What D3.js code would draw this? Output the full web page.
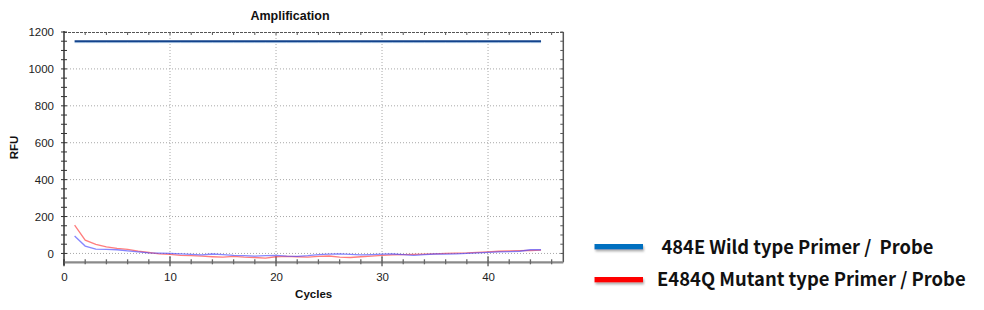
<!DOCTYPE html>
<html><head><meta charset="utf-8">
<script src="https://cdn.jsdelivr.net/npm/d3@7"></script>
<style>
html,body{margin:0;padding:0;background:#fff;}
svg{display:block;}
</style></head>
<body>
<svg id="chart" width="984" height="310"></svg>
<script>
// ---- data ----
const cycles = d3.range(1, 46);
const wildFlat = [1150,1150,1150,1150,1150,1150,1150,1150,1150,1150,1150,1150,1150,1150,1150,1150,1150,1150,1150,1150,1150,1150,1150,1150,1150,1150,1150,1150,1150,1150,1150,1150,1150,1150,1150,1150,1150,1150,1150,1150,1150,1150,1150,1150,1150];
const mutantRed = [154,72,49,36,27,22,12,5,-2,-5,-10,-12,-15,-18,-20,-16,-20,-22,-25,-18,-16,-18,-20,-16,-14,-20,-22,-18,-14,-10,-8,-6,-5,-4,-2,0,2,3,6,9,12,14,15,16,18];
const wildBlue = [94,40,23,22,20,14,9,3,2,0,-2,-5,-8,-3,-6,-10,-12,-14,-12,-10,-14,-16,-12,-6,-4,-2,-5,-8,-6,-4,-3,-6,-10,-6,-3,-4,-2,0,3,6,8,10,12,20,20];
const yTicks = [0,200,400,600,800,1000,1200];
const xTicks = [0,10,20,30,40];
const legendLabels = ["484E Wild type Primer /  Probe", "E484Q Mutant type Primer / Probe"];
const legendColors = ["#0070c0", "#ff0000"];

// ---- layout ----
const svg = d3.select("#chart");
const L = 64, R = 563.3, T = 32, B = 262.3;
const x = d3.scaleLinear().domain([0, 47.1]).range([L, R]);
const y = d3.scaleLinear().domain([-48, 1200]).range([B, T]);
const FONT = "Liberation Sans, Arial, sans-serif";

// grid
const grid = svg.append("g");
grid.selectAll(".gy").data(yTicks.filter(d => d < 1200)).join("line")
  .attr("x1", L).attr("x2", R).attr("y1", d => y(d)).attr("y2", d => y(d))
  .attr("stroke", "#a8a8a8").attr("stroke-width", 1).attr("stroke-dasharray", "1,2");
grid.selectAll(".gx").data(xTicks.filter(d => d > 0)).join("line")
  .attr("x1", d => x(d)).attr("x2", d => x(d)).attr("y1", T).attr("y2", B)
  .attr("stroke", "#a8a8a8").attr("stroke-width", 1).attr("stroke-dasharray", "1,2");

// top & right border
svg.append("line").attr("x1", L).attr("x2", R).attr("y1", T + 0.5).attr("y2", T + 0.5)
  .attr("stroke", "#555").attr("stroke-width", 1.2).attr("stroke-dasharray", "3,1");
svg.append("line").attr("x1", R).attr("x2", R).attr("y1", T).attr("y2", B)
  .attr("stroke", "#555").attr("stroke-width", 1.5);
const minorY = d3.range(0, 1201, 50);
svg.append("g").selectAll("line").data(minorY).join("line")
  .attr("x1", R - 3).attr("x2", R).attr("y1", d => y(d)).attr("y2", d => y(d))
  .attr("stroke", "#555").attr("stroke-width", 1);
svg.append("g").selectAll("line").data(d3.range(2, 47, 2)).join("line")
  .attr("x1", d => x(d)).attr("x2", d => x(d)).attr("y1", T).attr("y2", T + 3)
  .attr("stroke", "#555").attr("stroke-width", 1);

// left axis
const yAxis = d3.axisLeft(y).tickValues(yTicks).tickFormat(d3.format("d")).tickSize(0).tickPadding(10);
const ga = svg.append("g").attr("transform", `translate(${L},0)`).call(yAxis);
ga.select(".domain").remove();
ga.selectAll("text").attr("font-family", FONT).attr("font-size", 11.5).attr("fill", "#222");
svg.append("line").attr("x1", L).attr("x2", L).attr("y1", T - 1).attr("y2", B + 3)
  .attr("stroke", "#333").attr("stroke-width", 1.5);
svg.append("g").selectAll("line").data(minorY).join("line")
  .attr("x1", L - 3).attr("x2", L + 3).attr("y1", d => y(d)).attr("y2", d => y(d))
  .attr("stroke", "#333").attr("stroke-width", 1);

// bottom axis
const xAxis = d3.axisBottom(x).tickValues(xTicks).tickFormat(d3.format("d")).tickSize(0).tickPadding(11);
const gb = svg.append("g").attr("transform", `translate(0,${B})`).call(xAxis);
gb.select(".domain").remove();
gb.selectAll("text").attr("font-family", FONT).attr("font-size", 11.5).attr("fill", "#222");
svg.append("line").attr("x1", L).attr("x2", R).attr("y1", B).attr("y2", B)
  .attr("stroke", "#8a8a8a").attr("stroke-width", 2.2);
svg.append("g").selectAll("line").data(d3.range(2, 47, 2)).join("line")
  .attr("x1", d => x(d)).attr("x2", d => x(d))
  .attr("y1", d => d % 10 === 0 ? B - 6 : B - 3).attr("y2", d => d % 10 === 0 ? B + 4 : B + 2)
  .attr("stroke", d => d % 10 === 0 ? "#555" : "#666").attr("stroke-width", 1.3);
svg.append("line").attr("x1", x(0)).attr("x2", x(0)).attr("y1", B - 3).attr("y2", B + 4)
  .attr("stroke", "#333").attr("stroke-width", 1.3);

// series
const line = d3.line().x((d, i) => x(cycles[i])).y(d => y(d));
const plot = svg.append("g");
plot.append("path").datum(wildFlat).attr("d", line).attr("fill", "none")
  .attr("stroke", "#b7d3ee").attr("stroke-width", 1).attr("transform", "translate(0,1.4)");
plot.append("path").datum(wildFlat).attr("d", line).attr("fill", "none")
  .attr("stroke", "#14448c").attr("stroke-width", 1.8);
plot.append("path").datum(mutantRed).attr("d", line).attr("fill", "none")
  .attr("stroke", "rgba(255,70,70,0.7)").attr("stroke-width", 1.3);
plot.append("path").datum(wildBlue).attr("d", line).attr("fill", "none")
  .attr("stroke", "rgba(70,70,255,0.65)").attr("stroke-width", 1.3);

// titles
svg.append("text").attr("x", 290).attr("y", 19.5).attr("text-anchor", "middle")
  .attr("font-family", FONT).attr("font-weight", "bold").attr("font-size", 12.5)
  .attr("fill", "#111").text("Amplification");
svg.append("text").attr("x", (L + R) / 2).attr("y", 297.5).attr("text-anchor", "middle")
  .attr("font-family", FONT).attr("font-weight", "bold").attr("font-size", 11.5)
  .attr("fill", "#111").text("Cycles");
svg.append("text").attr("transform", "translate(18.3,147.5) rotate(-90)").attr("text-anchor", "middle")
  .attr("font-family", FONT).attr("font-weight", "bold").attr("font-size", 11.5)
  .attr("fill", "#111").text("RFU");

// legend
const defs = svg.append("defs");
const f = defs.append("filter").attr("id", "sh").attr("x", "-20%").attr("y", "-100%").attr("width", "140%").attr("height", "400%");
f.append("feDropShadow").attr("dx", 1).attr("dy", 2).attr("stdDeviation", 1).attr("flood-color", "#777").attr("flood-opacity", 0.6);
const legendY = [246.7, 279.7];
const textX = [661.5, 657];
const textBase = [254, 285.5];
const textW = [272, 309];
legendLabels.forEach((lab, i) => {
  svg.append("rect").attr("x", 594.5).attr("y", legendY[i] - 2.7).attr("width", 48.5).attr("height", 5.4)
    .attr("fill", legendColors[i]).attr("filter", "url(#sh)");
  const t = svg.append("text").attr("x", textX[i]).attr("y", textBase[i])
    .attr("font-family", "Noto Sans CJK KR, Noto Sans, sans-serif").attr("font-weight", "bold")
    .attr("font-size", 18).attr("fill", "#111").attr("xml:space", "preserve").style("white-space", "pre").text(lab);
  const w = t.node().getComputedTextLength();
  t.attr("font-size", 18 * textW[i] / w);
});
</script>
</body></html>
